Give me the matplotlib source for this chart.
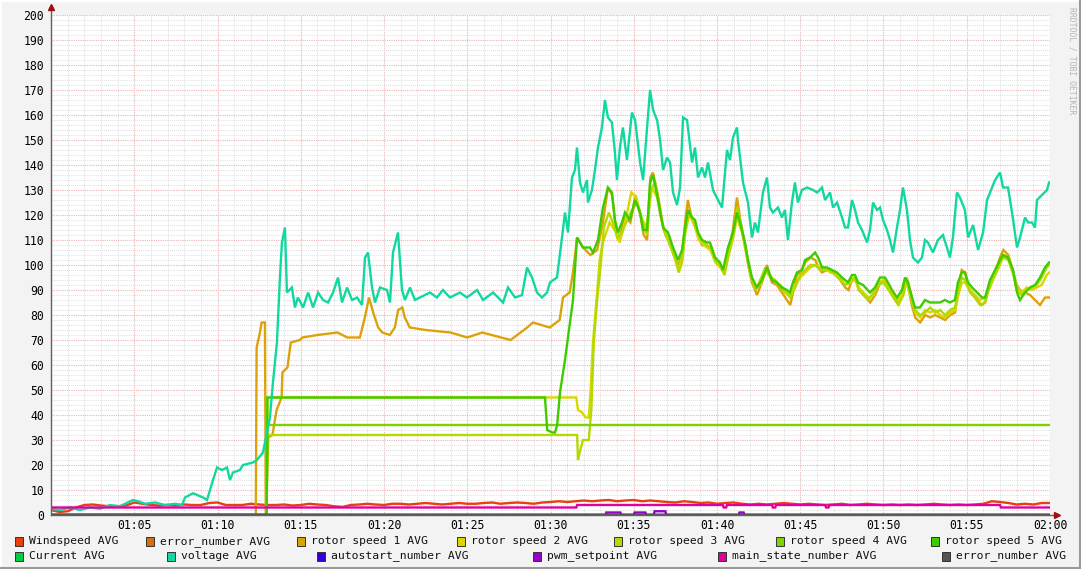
import numpy as np
import matplotlib
matplotlib.use("Agg")
import matplotlib.pyplot as plt
from matplotlib.patches import Rectangle
from matplotlib.lines import Line2D

# ---- data (time in minutes after 01:00) ----
x_ticks = [5, 10, 15, 20, 25, 30, 35, 40, 45, 50, 55, 60]
x_labels = ["01:05", "01:10", "01:15", "01:20", "01:25", "01:30",
            "01:35", "01:40", "01:45", "01:50", "01:55", "02:00"]

wind_t = np.arange(0, 60.5, 0.5)
wind_v = [2.0, 1.2, 1.5, 3.0, 4.0, 4.2, 3.8, 3.5, 3.5, 3.8, 5.0, 4.5, 4.0, 3.8, 4.0, 3.8,
          4.2, 4.0, 4.0, 4.8, 5.0, 4.0, 4.0, 4.0, 4.5, 4.2, 4.0, 4.0, 4.2, 3.8, 4.0, 4.5,
          4.2, 4.0, 3.5, 3.2, 4.0, 4.2, 4.5, 4.2, 4.0, 4.5, 4.5, 4.2, 4.5, 4.8, 4.5, 4.2,
          4.5, 4.8, 4.5, 4.5, 4.8, 5.0, 4.5, 4.8, 5.0, 4.8, 4.5, 5.0, 5.2, 5.5, 5.2, 5.5,
          5.8, 5.5, 5.8, 6.0, 5.5, 5.8, 6.0, 5.5, 5.8, 5.5, 5.2, 5.0, 5.5, 5.2, 4.8, 5.0,
          4.5, 4.8, 5.0, 4.5, 4.2, 4.5, 4.2, 4.5, 4.8, 4.5, 4.2, 4.5, 4.2, 4.0, 4.2, 4.5,
          4.0, 4.2, 4.5, 4.2, 4.0, 4.2, 4.0, 4.2, 4.0, 4.2, 4.5, 4.2, 4.0, 4.2, 4.0, 4.2,
          4.5, 5.5, 5.2, 4.8, 4.2, 4.5, 4.2, 4.8, 4.8]

err_t = [0, 60]
err_v = [0, 0]

r1_t = [0, 12.3, 12.35, 12.55, 12.65, 12.85, 12.9, 13.05, 13.3, 13.55, 13.85, 13.9, 14.2, 14.4,
        14.95, 15.1, 16.0, 17.2, 17.8, 18.55, 18.85, 19.1, 19.35, 19.65, 19.9, 20.35, 20.65,
        20.85, 21.1, 21.25, 21.55, 22.5, 24.0, 25.0, 25.9, 27.6, 28.6, 28.95, 29.95, 30.55,
        30.75, 31.15, 31.35, 31.6, 31.95, 32.4, 32.8, 33.15, 33.45, 33.7, 33.9, 34.1, 34.3,
        34.5, 34.8, 35.1, 35.4, 35.6, 35.8, 36.0, 36.15, 36.45, 36.8, 37.1, 37.4, 37.7, 37.9,
        38.1, 38.25, 38.5, 38.7, 38.9, 39.1, 39.6, 39.9, 40.2, 40.4, 40.7, 40.95, 41.2, 41.4,
        41.7, 41.9, 42.1, 42.4, 42.7, 43.0, 43.3, 43.6, 43.9, 44.2, 44.4, 44.6, 44.8, 45.1,
        45.3, 45.6, 45.9, 46.1, 46.3, 46.6, 46.9, 47.2, 47.5, 47.7, 47.9, 48.1, 48.3, 48.5,
        48.8, 49.2, 49.5, 49.8, 50.1, 50.3, 50.5, 50.8, 51.1, 51.3, 51.5, 51.7, 51.9, 52.2,
        52.5, 52.8, 53.1, 53.4, 53.7, 54.0, 54.3, 54.5, 54.7, 54.9, 55.1, 55.3, 55.6, 55.9,
        56.1, 56.4, 56.7, 57.0, 57.2, 57.5, 57.8, 58.0, 58.2, 58.5, 58.8, 59.1, 59.4, 59.7, 59.95]
r1_v = [0, 0, 67, 73, 77, 77, 0, 31, 32, 42, 47, 57, 59, 69,
        70, 71, 72, 73, 71, 71, 79, 87, 81, 75, 73, 72, 75,
        82, 83, 79, 75, 74, 73, 71, 73, 70, 75, 77, 75, 78,
        87, 89, 97, 111, 107, 104, 106, 117, 131, 128, 116, 110, 115,
        119, 117, 128, 120, 112, 110, 135, 137, 128, 114, 110, 104, 100, 104,
        118, 126, 118, 115, 111, 108, 107, 102, 100, 97, 106, 114, 127, 118,
        107, 99, 93, 88, 93, 100, 93, 92, 89, 86, 84, 90, 96, 98,
        101, 103, 102, 99, 97, 98, 97, 96, 93, 91, 90, 94, 95, 91,
        88, 85, 88, 93, 94, 91, 88, 85, 88, 94, 91, 84, 79, 77,
        80, 79, 80, 79, 78, 80, 81, 92, 98, 97, 91, 89, 86, 84,
        85, 93, 97, 103, 106, 104, 97, 92, 90, 89, 88, 86, 84, 87, 87]

r2_t = [0, 12.95, 13.0, 31.55, 31.65, 31.9, 32.1, 32.3, 32.4, 32.55, 32.8, 32.95, 33.15, 33.55,
        33.95, 34.15, 34.55, 34.85, 35.15, 35.45, 35.75, 36.1, 36.4, 36.7, 37.0, 37.4, 37.7,
        37.9, 38.1, 38.3, 38.6, 38.9, 39.2, 39.6, 39.9, 40.2, 40.4, 40.7, 41.0, 41.2, 41.5,
        41.8, 42.0, 42.3, 42.6, 42.9, 43.2, 43.5, 43.8, 44.1, 44.4, 44.7, 45.0, 45.3, 45.6,
        45.9, 46.2, 46.5, 46.8, 47.1, 47.4, 47.7, 48.0, 48.3, 48.5, 48.8, 49.1, 49.4, 49.7,
        50.0, 50.3, 50.6, 50.9, 51.2, 51.4, 51.6, 51.9, 52.2, 52.5, 52.8, 53.1, 53.4, 53.7,
        54.0, 54.3, 54.5, 54.7, 54.9, 55.2, 55.5, 55.8, 56.1, 56.4, 56.7, 57.0, 57.2, 57.5,
        57.8, 58.0, 58.3, 58.6, 58.9, 59.2, 59.5, 59.8, 59.95]
r2_v = [0, 0, 47, 47, 42, 41, 39, 39, 49, 69, 89, 102, 109, 117,
        113, 109, 119, 129, 127, 119, 115, 131, 127, 117, 111, 104, 98,
        103, 114, 120, 117, 110, 108, 106, 101, 99, 97, 104, 112, 119, 113,
        103, 96, 91, 92, 97, 96, 93, 92, 90, 88, 92, 95, 97, 99,
        100, 99, 99, 97, 97, 95, 92, 93, 94, 91, 89, 87, 88, 93,
        94, 91, 88, 86, 89, 93, 88, 81, 79, 82, 81, 82, 80, 79,
        81, 82, 88, 93, 93, 90, 88, 86, 87, 91, 96, 100, 104, 103,
        97, 91, 89, 91, 90, 91, 92, 96, 97]

r3_t = [0, 12.95, 13.0, 31.6, 31.65, 31.75, 31.95, 32.3, 32.45, 32.6, 32.8, 33.0, 33.2, 33.5,
        33.8, 34.0, 34.3, 34.6, 34.9, 35.2, 35.5, 35.8, 36.0, 36.3, 36.6, 36.9, 37.2, 37.5,
        37.7, 37.9, 38.1, 38.35, 38.6, 38.9, 39.2, 39.6, 39.9, 40.2, 40.45, 40.7, 41.0, 41.2,
        41.45, 41.75, 42.0, 42.3, 42.6, 42.9, 43.2, 43.5, 43.8, 44.1, 44.4, 44.7, 45.0, 45.3,
        45.6, 45.9, 46.2, 46.5, 46.8, 47.1, 47.4, 47.7, 48.0, 48.3, 48.5, 48.8, 49.1, 49.4,
        49.7, 50.0, 50.3, 50.6, 50.9, 51.2, 51.4, 51.6, 51.9, 52.2, 52.5, 52.8, 53.1, 53.4,
        53.7, 54.0, 54.3, 54.5, 54.7, 54.9, 55.2, 55.5, 55.8, 56.1, 56.4, 56.7, 57.0, 57.2,
        57.5, 57.8, 58.0, 58.3, 58.6, 58.9, 59.2, 59.5, 59.8, 59.95]
r3_v = [0, 0, 32, 32, 22, 25, 30, 30, 42, 69, 86, 99, 115, 121,
        116, 111, 113, 118, 122, 125, 118, 112, 130, 133, 120, 112, 108, 102,
        97, 101, 113, 121, 118, 112, 109, 107, 102, 100, 96, 104, 112, 123,
        116, 106, 97, 90, 94, 99, 95, 94, 91, 89, 87, 91, 96, 98,
        100, 100, 98, 98, 98, 96, 94, 92, 94, 95, 90, 88, 86, 89,
        92, 93, 90, 87, 84, 88, 95, 90, 82, 80, 81, 83, 81, 82,
        80, 82, 83, 90, 95, 94, 89, 87, 84, 85, 92, 96, 101, 103,
        102, 96, 90, 88, 90, 91, 92, 95, 99, 100]

r4_t = [0, 12.95, 13.0, 60]
r4_v = [0, 0, 36, 36]

r5_t = [0, 12.95, 13.0, 29.67, 29.8, 30.1, 30.27, 30.4, 30.57, 30.87, 31.05, 31.35, 31.59,
        31.77, 31.95, 32.37, 32.55, 32.85, 33.15, 33.45, 33.69, 33.87, 34.05, 34.29, 34.47,
        34.77, 35.08, 35.38, 35.56, 35.8, 35.98, 36.16, 36.46, 36.76, 37.06, 37.36, 37.66,
        37.9, 38.08, 38.26, 38.5, 38.68, 38.86, 39.1, 39.4, 39.58, 39.88, 40.18, 40.36, 40.66,
        40.96, 41.2, 41.38, 41.68, 41.86, 42.1, 42.4, 42.7, 43.0, 43.3, 43.6, 43.9, 44.2,
        44.38, 44.56, 44.8, 45.1, 45.29, 45.59, 45.89, 46.07, 46.31, 46.61, 46.91, 47.21,
        47.51, 47.69, 47.87, 48.11, 48.29, 48.47, 48.77, 49.19, 49.49, 49.79, 50.09, 50.27,
        50.51, 50.81, 51.11, 51.29, 51.47, 51.71, 51.89, 52.19, 52.49, 52.79, 53.09, 53.39,
        53.69, 53.99, 54.29, 54.47, 54.71, 54.89, 55.08, 55.32, 55.62, 55.92, 56.1, 56.4,
        56.7, 57.0, 57.18, 57.48, 57.78, 58.02, 58.2, 58.5, 58.8, 59.1, 59.4, 59.7, 59.94]
r5_v = [0, 0, 47, 47, 34, 33, 33, 36, 49, 62, 71, 86, 111,
        109, 107, 107, 105, 110, 123, 131, 129, 118, 113, 117, 121,
        118, 126, 121, 114, 114, 133, 136, 126, 115, 113, 107, 102,
        106, 115, 122, 119, 118, 113, 110, 109, 109, 103, 101, 98, 107,
        113, 121, 117, 109, 102, 95, 91, 94, 99, 94, 93, 91, 90,
        89, 93, 97, 98, 102, 103, 105, 103, 99, 99, 98, 97,
        95, 94, 93, 96, 96, 93, 92, 89, 91, 95, 95, 93,
        90, 87, 90, 95, 93, 87, 83, 83, 86, 85, 85, 85,
        86, 85, 86, 93, 97, 97, 93, 91, 89, 87, 87, 94,
        98, 102, 104, 103, 98, 89, 86, 89, 91, 92, 95, 99, 101]

cur_t = [0, 60]
cur_v = [0, 0]

volt_t = [0.00, 0.54, 1.14, 1.74, 2.34, 2.94, 3.54, 4.14, 4.92, 5.23, 5.65, 6.25, 6.85, 7.45,
          7.87, 8.05, 8.53, 9.13, 9.37, 9.73, 9.97, 10.27, 10.57, 10.75, 10.93, 11.35, 11.53,
          12.13, 12.37, 12.73, 12.85, 13.15, 13.33, 13.57, 13.75, 13.87, 14.05, 14.17, 14.47,
          14.65, 14.83, 15.14, 15.44, 15.74, 16.04, 16.34, 16.64, 16.94, 17.24, 17.48, 17.78,
          18.08, 18.38, 18.68, 18.86, 19.04, 19.28, 19.46, 19.76, 20.18, 20.36, 20.54, 20.84,
          21.08, 21.26, 21.56, 21.86, 22.16, 22.76, 23.18, 23.54, 23.96, 24.56, 24.98, 25.59,
          25.95, 26.55, 27.15, 27.45, 27.87, 28.29, 28.59, 28.89, 29.19, 29.49, 29.79, 29.97,
          30.39, 30.69, 30.87, 31.05, 31.29, 31.47, 31.59, 31.77, 31.95, 32.19, 32.25, 32.49,
          32.67, 32.85, 33.09, 33.27, 33.45, 33.69, 33.87, 33.99, 34.17, 34.35, 34.59, 34.89,
          35.08, 35.38, 35.56, 35.80, 35.98, 36.16, 36.40, 36.58, 36.76, 37.00, 37.18, 37.36,
          37.60, 37.78, 37.96, 38.20, 38.50, 38.68, 38.86, 39.10, 39.28, 39.46, 39.76, 40.06,
          40.30, 40.60, 40.78, 40.96, 41.20, 41.26, 41.56, 41.86, 42.10, 42.28, 42.46, 42.76,
          43.00, 43.18, 43.36, 43.66, 43.90, 44.08, 44.26, 44.50, 44.68, 44.86, 45.10, 45.41,
          45.77, 46.01, 46.31, 46.49, 46.79, 46.97, 47.21, 47.51, 47.69, 47.87, 48.11, 48.29,
          48.47, 48.71, 49.01, 49.19, 49.37, 49.61, 49.79, 49.97, 50.21, 50.39, 50.57, 50.81,
          50.99, 51.17, 51.41, 51.59, 51.77, 52.07, 52.31, 52.49, 52.67, 52.97, 53.27, 53.57,
          53.81, 53.99, 54.17, 54.41, 54.59, 54.89, 55.08, 55.38, 55.68, 55.98, 56.22, 56.40,
          56.70, 57.00, 57.18, 57.48, 57.72, 58.02, 58.20, 58.50, 58.68, 58.92, 59.10, 59.22,
          59.52, 59.82, 59.94]
volt_v = [2.5, 2, 3, 2, 3, 2.5, 4, 3.5, 6, 5.5, 4.5, 5, 4, 4.5,
          4, 7, 8.7, 7, 6, 14, 19, 18, 19, 14, 17, 18, 20,
          21, 22, 25, 29, 39, 53, 69, 95, 109, 115, 89, 91,
          83, 87, 83, 89, 83, 89, 86, 85, 89, 95, 85, 91,
          86, 87, 84, 103, 105, 91, 85, 91, 90, 85, 105, 113,
          90, 86, 91, 86, 87, 89, 87, 90, 87, 89, 87, 90,
          86, 89, 85, 91, 87, 88, 99, 95, 89, 87, 89, 93,
          95, 111, 121, 113, 135, 138, 147, 133, 129, 134, 125, 130,
          138, 147, 155, 166, 159, 157, 145, 134, 147, 155, 142, 161,
          158, 141, 134, 155, 170, 162, 158, 150, 138, 143, 141, 129,
          124, 131, 159, 158, 141, 147, 135, 139, 135, 141, 130, 126,
          123, 146, 142, 151, 155, 150, 133, 125, 111, 117, 113, 129,
          135, 123, 121, 123, 119, 122, 110, 125, 133, 125, 130, 131,
          130, 129, 131, 126, 129, 123, 125, 119, 115, 115, 126, 122,
          117, 114, 109, 114, 125, 122, 123, 118, 114, 110, 105, 115,
          122, 131, 122, 110, 103, 101, 103, 110, 109, 105, 110, 112,
          107, 103, 111, 129, 127, 122, 111, 116, 106, 113, 126, 129,
          134, 137, 131, 131, 121, 107, 111, 119, 117, 117, 115, 126,
          128, 130, 133]

auto_t = [0, 60]
auto_v = [0, 0]

pwm_t = [0, 33.3, 33.35, 34.2, 34.25, 35.0, 35.05, 35.7, 35.75, 36.2, 36.25, 36.9, 36.95,
         41.3, 41.35, 41.6, 41.65, 60]
pwm_v = [0, 0, 1, 1, 0, 0, 1, 1, 0, 0, 1.5, 1.5, 0, 0, 1, 1, 0, 0]

state_t = [0, 31.55, 31.6, 40.35, 40.4, 40.55, 40.6, 43.3, 43.35, 43.5, 43.55,
           46.5, 46.55, 46.7, 46.75, 57.0, 57.05, 60]
state_v = [3, 3, 4, 4, 3, 3, 4, 4, 3, 3, 4, 4, 3, 3, 4, 4, 3, 3]

err2_t = [0, 60]
err2_v = [0, 0]

series = [
    ("Windspeed AVG", wind_t, wind_v, "#e8400c"),
    ("error_number AVG", err_t, err_v, "#d96e0f"),
    ("rotor speed 1 AVG", r1_t, r1_v, "#dca20a"),
    ("rotor speed 2 AVG", r2_t, r2_v, "#d8d800"),
    ("rotor speed 3 AVG", r3_t, r3_v, "#b2d900"),
    ("rotor speed 4 AVG", r4_t, r4_v, "#7fd200"),
    ("rotor speed 5 AVG", r5_t, r5_v, "#3ccc00"),
    ("Current AVG", cur_t, cur_v, "#00cc44"),
    ("voltage AVG", volt_t, volt_v, "#10d8a0"),
    ("autostart_number AVG", auto_t, auto_v, "#3300dd"),
    ("pwm_setpoint AVG", pwm_t, pwm_v, "#9900cc"),
    ("main_state_number AVG", state_t, state_v, "#e000a0"),
    ("error_number AVG", err2_t, err2_v, "#555555"),
]

# ---- figure ----
W, H = 1081, 569
fig = plt.figure(figsize=(W / 100, H / 100), dpi=100, facecolor="#f3f3f3")
ax = fig.add_axes([51 / W, (H - 515) / H, (1050 - 51) / W, 500 / H])
ax.set_facecolor("white")

mono = "DejaVu Sans Mono"

for name, t, v, c in series:
    ax.plot(t, v, color=c, lw=1.7, solid_joinstyle="miter", zorder=3)

ax.set_xlim(0, 60)
ax.set_ylim(0, 200)
ax.set_xticks(x_ticks)
ax.set_xticklabels(x_labels)
ax.set_xticks(np.arange(0, 61, 1), minor=True)
ax.set_yticks(np.arange(0, 201, 10))
ax.set_yticks(np.arange(0, 201, 2), minor=True)
ax.grid(which="minor", color="#e0e0e0", linestyle=(0, (1, 1)), lw=0.7, zorder=0)
ax.grid(which="major", color="#ebb4b4", linestyle=(0, (1, 1)), lw=0.8, zorder=1)
ax.set_axisbelow(True)
ax.tick_params(which="both", length=0, labelsize=8.3, pad=5)
for lab in ax.get_xticklabels() + ax.get_yticklabels():
    lab.set_fontfamily(mono)
ax.tick_params(axis="x", pad=3)

for s in ax.spines.values():
    s.set_visible(False)
# axis lines with arrows
ax.add_line(Line2D([0, 0], [0, 1.013], transform=ax.transAxes, color="#606060",
                   lw=1, clip_on=False, zorder=5))
ax.add_line(Line2D([0, 1.007], [0, 0], transform=ax.transAxes, color="#606060",
                   lw=1, clip_on=False, zorder=5))
ax.plot([0], [1.016], marker="^", ms=4.5, color="#a01010", transform=ax.transAxes,
        clip_on=False, zorder=6)
ax.plot([1.0075], [0], marker=">", ms=4.5, color="#a01010", transform=ax.transAxes,
        clip_on=False, zorder=6)

# ---- legend (drawn by hand, rrdtool style) ----
row1 = [15, 146, 297, 457, 614, 776, 931]
row2 = [15, 167, 317, 533, 718, 942]
pos = [(x, 541.5) for x in row1] + [(x, 556) for x in row2]
for (name, t, v, c), (px, py) in zip(series, pos):
    fig.patches.append(Rectangle((px / W, (H - py - 4.5) / H), 8 / W, 9 / H,
                                 transform=fig.transFigure, facecolor=c,
                                 edgecolor="#333333", lw=0.7))
    fig.text((px + 14) / W, (H - py) / H, name, fontsize=8.2, family=mono,
             va="center", ha="left", color="#111111")

fig.text(1072 / W, (H - 61) / H, "RRDTOOL / TOBI OETIKER", rotation=270,
         fontsize=5.8, family=mono, color="#b4b4b4", ha="center", va="center")

# frame: light top/left, dark bottom/right
fig.lines.append(Line2D([0, 1], [1 - 1 / H, 1 - 1 / H], transform=fig.transFigure,
                        color="white", lw=1.5))
fig.lines.append(Line2D([1 / W, 1 / W], [0, 1], transform=fig.transFigure,
                        color="white", lw=1.5))
fig.lines.append(Line2D([0, 1], [1.5 / H, 1.5 / H], transform=fig.transFigure,
                        color="#9a9a9a", lw=2.2))
fig.lines.append(Line2D([1 - 1.5 / W, 1 - 1.5 / W], [0, 1], transform=fig.transFigure,
                        color="#9a9a9a", lw=2.2))

fig.savefig("out.png", dpi=100, facecolor=fig.get_facecolor())
